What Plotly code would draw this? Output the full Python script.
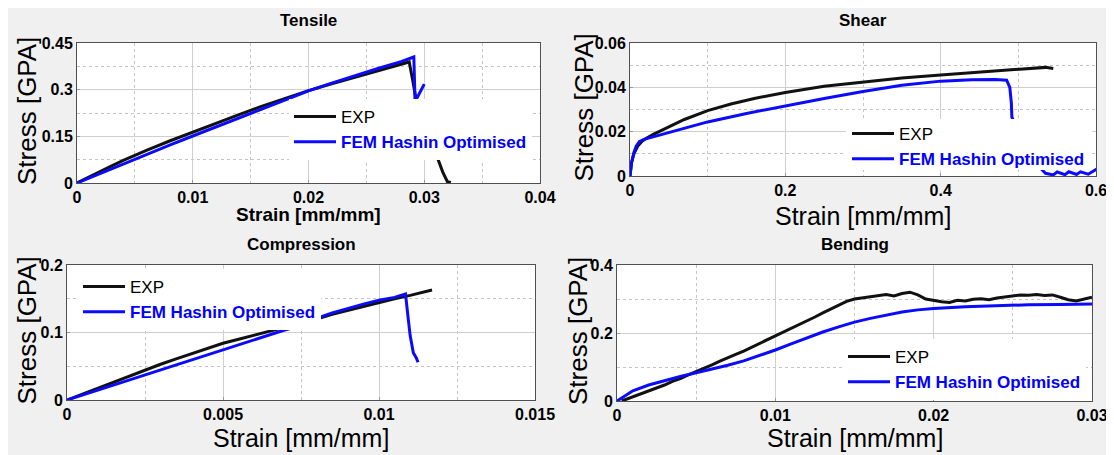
import plotly.graph_objects as go

# page body has an 8px margin; the figure fills the rest of the 1114x455 window
OFF = 8
W, H = 1114 - OFF, 455 - OFF
FONT = "Liberation Sans, Arial, sans-serif"

# ---------------- data ----------------
panel_titles = ["Tensile", "Shear", "Compression", "Bending"]
x_title = "Strain [mm/mm]"
y_title = "Stress [GPA]"
legend_names = ["EXP", "FEM Hashin Optimised"]

# Tensile
tensile_exp_strain = [0, 0.001, 0.002, 0.003, 0.004, 0.005, 0.006, 0.008, 0.010, 0.012, 0.014, 0.016,
                      0.018, 0.020, 0.022, 0.024, 0.026, 0.027, 0.028, 0.0287, 0.0290, 0.0293, 0.0302,
                      0.0311, 0.0316, 0.0320, 0.0323]
tensile_exp_stress = [0, 0.019, 0.037, 0.055, 0.073, 0.090, 0.105, 0.135, 0.164, 0.192, 0.220, 0.247,
                      0.273, 0.297, 0.319, 0.340, 0.360, 0.370, 0.380, 0.389, 0.330, 0.268, 0.175,
                      0.085, 0.035, 0.004, 0.002]
tensile_fem_strain = [0, 0.002, 0.004, 0.006, 0.008, 0.010, 0.012, 0.014, 0.016, 0.018, 0.020, 0.022,
                      0.024, 0.026, 0.028, 0.0291, 0.02915, 0.0292, 0.0294, 0.0296, 0.0298, 0.0300]
tensile_fem_stress = [0, 0.031, 0.062, 0.093, 0.122, 0.151, 0.180, 0.209, 0.238, 0.267, 0.296, 0.321,
                      0.345, 0.368, 0.390, 0.405, 0.340, 0.265, 0.275, 0.290, 0.305, 0.318]

# Shear
shear_exp_strain = [0, 0.002, 0.005, 0.01, 0.015, 0.02, 0.03, 0.04, 0.05, 0.07, 0.1, 0.13, 0.16, 0.2,
                    0.25, 0.3, 0.35, 0.4, 0.45, 0.5, 0.52, 0.535, 0.545]
shear_exp_stress = [0, 0.006, 0.010, 0.0135, 0.0155, 0.0168, 0.0188, 0.0205, 0.0222, 0.0255, 0.0295,
                    0.0325, 0.0350, 0.0377, 0.0405, 0.0425, 0.0442, 0.0456, 0.0468, 0.0479, 0.0485,
                    0.0490, 0.0485]
shear_fem_strain = [0, 0.002, 0.005, 0.008, 0.012, 0.018, 0.025, 0.05, 0.1, 0.15, 0.2, 0.25, 0.3, 0.35,
                    0.4, 0.44, 0.47, 0.485, 0.489, 0.491, 0.4917, 0.51, 0.53, 0.535, 0.545, 0.55, 0.56,
                    0.565, 0.575, 0.58, 0.59, 0.595, 0.6, 0.605]
shear_fem_stress = [0, 0.006, 0.0105, 0.0135, 0.0155, 0.0165, 0.0172, 0.0196, 0.0244, 0.0282, 0.0317,
                    0.0350, 0.0381, 0.0409, 0.0428, 0.0434, 0.0435, 0.0432, 0.0400, 0.0330, 0.0266,
                    0.0120, 0.0030, 0.0012, 0.0005, 0.0018, 0.0006, 0.0019, 0.0007, 0.0019, 0.0008,
                    0.0020, 0.0030, 0.0040]

# Compression
compression_exp_strain = [0, 0.0005, 0.001, 0.0015, 0.002, 0.0025, 0.003, 0.0035, 0.004, 0.0045, 0.005,
                          0.0055, 0.006, 0.0065, 0.007, 0.0075, 0.008, 0.0085, 0.009, 0.0095, 0.010,
                          0.0105, 0.011, 0.0113, 0.0117]
compression_exp_stress = [0, 0.009, 0.018, 0.027, 0.036, 0.045, 0.053, 0.061, 0.069, 0.077, 0.084,
                          0.090, 0.096, 0.102, 0.107, 0.113, 0.120, 0.127, 0.133, 0.139, 0.145,
                          0.150, 0.155, 0.158, 0.163]
compression_fem_strain = [0, 0.001, 0.002, 0.003, 0.004, 0.005, 0.006, 0.007, 0.0075, 0.008, 0.0085,
                          0.009, 0.0095, 0.010, 0.0105, 0.01085, 0.0109, 0.01095, 0.0110, 0.01105,
                          0.0111, 0.0112, 0.01125]
compression_fem_stress = [0, 0.015, 0.030, 0.045, 0.060, 0.075, 0.090, 0.104, 0.110, 0.121, 0.129,
                          0.136, 0.142, 0.148, 0.152, 0.157, 0.140, 0.115, 0.095, 0.080,
                          0.070, 0.062, 0.056]

# Bending
bending_exp_strain = [0.0003, 0.001, 0.0015, 0.002, 0.0025, 0.003, 0.0035, 0.004, 0.0045, 0.005,
                      0.0055, 0.006, 0.0065, 0.007, 0.0075, 0.008, 0.0085, 0.009, 0.0095, 0.010,
                      0.0105, 0.011, 0.0115, 0.012, 0.0125, 0.013, 0.0135, 0.014, 0.0145, 0.015,
                      0.0155, 0.016, 0.0165, 0.017, 0.0175, 0.018, 0.0185, 0.019, 0.0195, 0.020,
                      0.0205, 0.021, 0.0215, 0.022, 0.0225, 0.023, 0.0235, 0.024, 0.0245, 0.025,
                      0.0255, 0.026, 0.0265, 0.027, 0.0275, 0.028, 0.0285, 0.029, 0.0295, 0.030]
bending_exp_stress = [0.000, 0.012, 0.020, 0.028, 0.038, 0.047, 0.058, 0.066, 0.077, 0.086,
                      0.097, 0.106, 0.117, 0.126, 0.137, 0.147, 0.158, 0.169, 0.180, 0.190,
                      0.201, 0.213, 0.224, 0.236, 0.247, 0.259, 0.271, 0.283, 0.293, 0.300,
                      0.303, 0.305, 0.310, 0.313, 0.309, 0.316, 0.320, 0.312, 0.300, 0.295,
                      0.292, 0.290, 0.296, 0.294, 0.299, 0.301, 0.298, 0.303, 0.306, 0.309,
                      0.312, 0.311, 0.313, 0.310, 0.312, 0.305, 0.298, 0.294, 0.300, 0.305]
bending_fem_strain = [0, 0.001, 0.002, 0.003, 0.004, 0.005, 0.006, 0.007, 0.008, 0.009, 0.010, 0.011,
                      0.012, 0.013, 0.014, 0.015, 0.016, 0.017, 0.018, 0.019, 0.020, 0.022, 0.024,
                      0.026, 0.028, 0.030]
bending_fem_stress = [0, 0.030, 0.047, 0.060, 0.072, 0.083, 0.093, 0.105, 0.118, 0.133, 0.150, 0.168,
                      0.186, 0.203, 0.218, 0.232, 0.243, 0.253, 0.262, 0.268, 0.272, 0.277, 0.281,
                      0.283, 0.284, 0.285]

# axis ticks
tensile_xticks = [0, 0.01, 0.02, 0.03, 0.04]
tensile_xlabels = ["0", "0.01", "0.02", "0.03", "0.04"]
tensile_yticks = [0, 0.15, 0.3, 0.45]
tensile_ylabels = ["0", "0.15", "0.3", "0.45"]
shear_xticks = [0, 0.2, 0.4, 0.6]
shear_xlabels = ["0", "0.2", "0.4", "0.6"]
shear_yticks = [0, 0.02, 0.04, 0.06]
shear_ylabels = ["0", "0.02", "0.04", "0.06"]
compression_xticks = [0, 0.005, 0.01, 0.015]
compression_xlabels = ["0", "0.005", "0.01", "0.015"]
compression_yticks = [0, 0.1, 0.2]
compression_ylabels = ["0", "0.1", "0.2"]
bending_xticks = [0, 0.01, 0.02, 0.03]
bending_xlabels = ["0", "0.01", "0.02", "0.03"]
bending_yticks = [0, 0.2, 0.4]
bending_ylabels = ["0", "0.2", "0.4"]

# ---------------- layout helpers (screen pixels -> paper fraction) ----------------
def fx(p):
    return (p - OFF) / W

def fy(p):
    return 1 - (p - OFF) / H

panels = [
    dict(exp=(tensile_exp_strain, tensile_exp_stress), fem=(tensile_fem_strain, tensile_fem_stress),
         xbox=(77, 540), ybox=(43, 183), xr=[0, 0.04], yr=[0, 0.45],
         xt=(tensile_xticks, tensile_xlabels), yt=(tensile_yticks, tensile_ylabels),
         xminor=0.005, yminor=0.075, title_y=21, xtitle_y=214, ytitle_x=27, xtitle_bold=True,
         leg=(289, 99), legbg="#ffffff"),
    dict(exp=(shear_exp_strain, shear_exp_stress), fem=(shear_fem_strain, shear_fem_stress),
         xbox=(630, 1096), ybox=(43, 176), xr=[0, 0.6], yr=[0, 0.06],
         xt=(shear_xticks, shear_xlabels), yt=(shear_yticks, shear_ylabels),
         xminor=0.1, yminor=0.01, title_y=21, xtitle_y=216, ytitle_x=583, xtitle_bold=False,
         leg=(847, 116), legbg="rgba(0,0,0,0)"),
    dict(exp=(compression_exp_strain, compression_exp_stress), fem=(compression_fem_strain, compression_fem_stress),
         xbox=(67, 535), ybox=(265, 400), xr=[0, 0.015], yr=[0, 0.2],
         xt=(compression_xticks, compression_xlabels), yt=(compression_yticks, compression_ylabels),
         xminor=0.0025, yminor=0.05, title_y=244, xtitle_y=438, ytitle_x=26, xtitle_bold=False,
         leg=(78, 269), legbg="#ffffff"),
    dict(exp=(bending_exp_strain, bending_exp_stress), fem=(bending_fem_strain, bending_fem_stress),
         xbox=(617, 1092), ybox=(265, 401), xr=[0, 0.03], yr=[0, 0.4],
         xt=(bending_xticks, bending_xlabels), yt=(bending_yticks, bending_ylabels),
         xminor=0.005, yminor=0.1, title_y=244, xtitle_y=438, ytitle_x=578, xtitle_bold=False,
         leg=(843, 339), legbg="#ffffff"),
]

EXP_COLOR = "#111111"
FEM_COLOR = "#0a0aff"

fig = go.Figure()
annotations = []
layout = {}

for i, p in enumerate(panels):
    n = "" if i == 0 else str(i + 1)
    legname = "legend" + n
    xa = "x" + n
    ya = "y" + n
    fig.add_trace(go.Scatter(x=p["exp"][0], y=p["exp"][1], mode="lines", name=legend_names[0],
                             line=dict(color=EXP_COLOR, width=3), xaxis=xa, yaxis=ya, legend=legname))
    fig.add_trace(go.Scatter(x=p["fem"][0], y=p["fem"][1], mode="lines",
                             name="<b><span style='color:#0000ff'>" + legend_names[1] + "</span></b>",
                             line=dict(color=FEM_COLOR, width=3), xaxis=xa, yaxis=ya, legend=legname))
    common = dict(showline=True, mirror=True, linecolor="#505050", linewidth=1, zeroline=False,
                  showgrid=True, gridcolor="#cfcfcf", gridwidth=1, ticks="inside", ticklen=3,
                  tickcolor="#999999", tickfont=dict(family=FONT, size=16, color="#000", weight="bold"),
                  fixedrange=True, automargin=False)
    layout["xaxis" + n] = dict(common, domain=[fx(p["xbox"][0]), fx(p["xbox"][1])], range=p["xr"],
                               anchor=ya, tickmode="array", tickvals=p["xt"][0], ticktext=p["xt"][1],
                               minor=dict(dtick=p["xminor"], tick0=0, showgrid=True, griddash="dot",
                                          gridcolor="#c4c4c4", gridwidth=1, ticks=""))
    layout["yaxis" + n] = dict(common, domain=[fy(p["ybox"][1]), fy(p["ybox"][0])], range=p["yr"],
                               anchor=xa, tickmode="array", tickvals=p["yt"][0], ticktext=p["yt"][1],
                               minor=dict(dtick=p["yminor"], tick0=0, showgrid=True, griddash="dot",
                                          gridcolor="#c4c4c4", gridwidth=1, ticks=""))
    layout[legname] = dict(x=fx(p["leg"][0]), y=fy(p["leg"][1]), xanchor="left", yanchor="top",
                           bgcolor=p["legbg"], borderwidth=0, itemwidth=42,
                           font=dict(family=FONT, size=17, color="#000"))
    cx = (p["xbox"][0] + p["xbox"][1]) / 2
    cy = (p["ybox"][0] + p["ybox"][1]) / 2
    annotations.append(dict(text="<b>" + panel_titles[i] + "</b>", x=fx(cx), y=fy(p["title_y"]),
                            xref="paper", yref="paper", xanchor="center", yanchor="middle",
                            showarrow=False, font=dict(family=FONT, size=17, color="#000")))
    if p["xtitle_bold"]:
        annotations.append(dict(text="<b>" + x_title + "</b>", x=fx(cx), y=fy(p["xtitle_y"]),
                                xref="paper", yref="paper", xanchor="center", yanchor="middle",
                                showarrow=False, font=dict(family=FONT, size=19, color="#000")))
    else:
        annotations.append(dict(text=x_title, x=fx(cx), y=fy(p["xtitle_y"]),
                                xref="paper", yref="paper", xanchor="center", yanchor="middle",
                                showarrow=False, font=dict(family=FONT, size=25, color="#000")))
    annotations.append(dict(text=y_title, x=fx(p["ytitle_x"]), y=fy(cy - 2), textangle=-90,
                            xref="paper", yref="paper", xanchor="center", yanchor="middle",
                            showarrow=False, font=dict(family=FONT, size=26, color="#000")))

# white backing behind the shear legend entries (leaves the strip near zero stress visible)
shapes = [dict(type="rect", xref="paper", yref="paper", x0=fx(846), x1=fx(1092), y0=fy(170), y1=fy(119),
               fillcolor="#ffffff", line=dict(width=0), layer="above")]

fig.update_layout(
    width=W, height=H, margin=dict(l=0, r=0, t=0, b=0, autoexpand=False),
    paper_bgcolor="#f0f0f0", plot_bgcolor="#ffffff",
    showlegend=True, annotations=annotations, shapes=shapes,
    font=dict(family=FONT, color="#000"),
    **layout,
)

fig.write_html("out.html")
